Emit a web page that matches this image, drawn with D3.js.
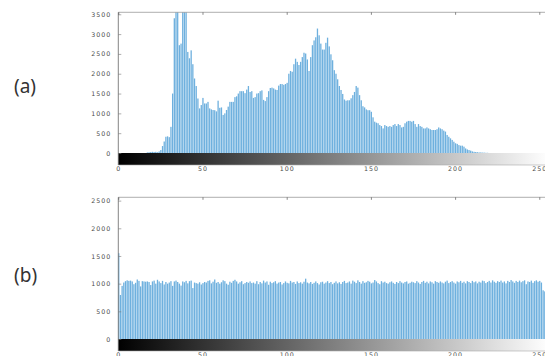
<!DOCTYPE html>
<html>
<head>
<meta charset="utf-8">
<script src="https://cdn.jsdelivr.net/npm/d3@7"></script>
<style>
  body { margin: 0; background: #fff; }
  svg { display: block; }
  .tick-label { font-family: "DejaVu Sans", sans-serif; font-size: 6.3px; letter-spacing: 1px; fill: #4a4a4a; }
  .panel-label { font-family: "Noto Sans", sans-serif; font-size: 19px; fill: #333; }
</style>
</head>
<body>
<script>
// bin positions 0..255
var bins = d3.range(256);

// (a) original image histogram (counts per grey level)
var countsA = [
  0, 0, 0, 0, 0, 0, 0, 0, 0, 0, 0, 0, 0, 0, 0, 0,
  0, 15, 20, 25, 30, 25, 30, 20, 40, 75, 175, 290, 410, 420, 400, 660,
  1500, 3400, 4200, 3900, 2720, 2760, 4600, 5000, 4100, 2550, 2390, 2590, 2240, 1880, 1690, 1375,
  1125, 1210, 1390, 1250, 1250, 1290, 1125, 1100, 1085, 1080, 1050, 1320, 1140, 1150, 960, 1000,
  1085, 1170, 1290, 1290, 1290, 1410, 1430, 1500, 1560, 1560, 1560, 1510, 1600, 1690, 1540, 1560,
  1390, 1410, 1500, 1510, 1560, 1580, 1340, 1310, 1410, 1560, 1640, 1650, 1630, 1600, 1590, 1700,
  1740, 1740, 1720, 1740, 1770, 2000, 2070, 2050, 2240, 2380, 2300, 2220, 2300, 2420, 2530, 2510,
  2360, 2070, 2420, 2720, 2840, 2920, 3140, 2970, 2760, 2610, 2610, 2780, 2910, 2690, 2490, 2340,
  2090, 2000, 1860, 1690, 1590, 1490, 1350, 1320, 1330, 1330, 1380, 1460, 1540, 1690, 1650, 1460,
  1330, 1180, 1150, 1100, 1080, 1080, 1040, 900, 790, 765, 750, 705, 680, 620, 705, 680,
  660, 680, 660, 705, 730, 680, 730, 705, 645, 660, 750, 790, 810, 810, 790, 810,
  730, 660, 730, 680, 660, 620, 620, 645, 620, 600, 580, 580, 580, 600, 645, 620,
  600, 565, 540, 455, 410, 370, 330, 285, 245, 230, 200, 185, 185, 160, 115, 90,
  75, 60, 40, 30, 25, 20, 15, 15, 10, 10, 5, 5, 0, 0, 0, 0,
  0, 0, 0, 0, 0, 0, 0, 0, 0, 0, 0, 0, 0, 0, 0, 0,
  0, 0, 0, 0, 0, 0, 0, 0, 0, 0, 0, 0, 0, 0, 0, 0
];

// (b) equalized histogram
var countsB = [
  1550, 795, 960, 1020, 1045, 1060, 1050, 1055, 1040, 990, 1015, 1075, 1050, 950, 1045, 1040,
  1035, 1040, 1030, 975, 1040, 1055, 1000, 1070, 1040, 1010, 1050, 985, 1030, 1000, 1020, 1045,
  960, 1040, 1055, 1030, 1000, 965, 1040, 1025, 1050, 1005, 1045, 1055, 920, 1020, 1010, 1000,
  1025, 985, 1010, 1030, 1020, 1050, 1060, 1005, 1035, 1075, 1015, 1030, 1000, 1025, 1060, 1045,
  1000, 980, 1035, 1015, 1050, 1070, 1040, 1000, 1025, 1045, 990, 1010, 1030, 1015, 1040, 1010,
  1020, 1000, 1045, 990, 1030, 1005, 1055, 1020, 1040, 980, 1035, 1010, 1025, 1045, 1000, 1020,
  1030, 985, 1010, 1040, 1015, 1005, 1050, 1020, 1030, 995, 1040, 1010, 1025, 1000, 1035, 1090,
  1020, 1005, 1030, 995, 1015, 1040, 1010, 985, 1025, 1035, 1000, 1020, 1045, 1010, 1030, 990,
  1015, 1040, 1005, 1025, 995, 1030, 1050, 1010, 1020, 1040, 1000, 1055, 1035, 1010, 1060, 1030,
  1000, 1045, 1015, 1025, 1050, 1035, 1005, 1020, 1065, 1040, 1010, 990, 1045, 1020, 1035, 1010,
  1000, 1025, 1040, 1015, 995, 1030, 1010, 1045, 1020, 1005, 1030, 1040, 1000, 1015, 1035, 1025,
  1010, 1045, 1020, 995, 1030, 1050, 1015, 1035, 1005, 1040, 1025, 1000, 1045, 1030, 1015, 1040,
  1020, 1005, 1035, 1055, 1010, 1030, 1045, 1020, 1000, 1040, 1025, 1050, 1015, 1035, 1005, 1045,
  1030, 1010, 1050, 1025, 1040, 1005, 1035, 1020, 1055, 1045, 1010, 1030, 1050, 1020, 1060, 1035,
  1015, 1045, 1030, 1055, 1020, 1040, 1005, 1050, 1030, 1065, 1040, 1015, 1050, 1030, 1055, 1025,
  1045, 1060, 990, 1040, 1030, 1055, 1015, 1045, 1060, 1035, 1050, 1020, 880, 860, 870, 850
];

var xTicks = [0, 50, 100, 150, 200, 250];
var yTicksA = [0, 500, 1000, 1500, 2000, 2500, 3000, 3500];
var yTicksB = [0, 500, 1000, 1500, 2000, 2500];

var W = 545, H = 356;
var left = 118.3, right = 549.4;

var svg = d3.select('body').
append('svg').
attr('width', W).
attr('height', H);

// grey ramp under each histogram
var grad = svg.append('defs').
append('linearGradient').
attr('id', 'ramp').
attr('x1', '0%').attr('x2', '100%').attr('y1', '0%').attr('y2', '0%');
grad.append('stop').attr('offset', '0%').attr('stop-color', '#000');
grad.append('stop').attr('offset', '100%').attr('stop-color', '#fff');

var x = d3.scaleLinear().domain([0, 256]).range([left, right]);

function drawPanel(id, counts, yMax, yTicks, top, zero, rampH, label, labelY) {
  var y = d3.scaleLinear().domain([0, yMax]).range([zero, top]);
  var g = svg.append('g').attr('id', id);

  g.append('clipPath').
  attr('id', id + '-clip').
  append('rect').
  attr('x', left).
  attr('y', top).
  attr('width', right - left).
  attr('height', zero - top);

  // bars
  g.append('g').
  attr('clip-path', 'url(#' + id + '-clip)').
  selectAll('rect').
  data(bins).
  enter().
  append('rect').
  attr('x', function (d) {return x(d) - 0.2;}).
  attr('width', 1.3).
  attr('y', function (d) {return y(counts[d]);}).
  attr('height', function (d) {return zero - y(counts[d]);}).
  attr('fill', '#6eb0de');

  // ramp bar
  g.append('rect').
  attr('x', left).
  attr('y', zero).
  attr('width', right - left).
  attr('height', rampH).
  attr('fill', 'url(#ramp)');

  // frame
  g.append('line').
  attr('x1', left).attr('x2', right).attr('y1', top).attr('y2', top).
  attr('stroke', '#9a9a9a').attr('stroke-width', 0.8);
  g.append('line').
  attr('x1', left).attr('x2', left).attr('y1', top).attr('y2', zero + rampH).
  attr('stroke', '#666').attr('stroke-width', 0.8);
  g.append('line').
  attr('x1', left).attr('x2', right).attr('y1', zero + rampH).attr('y2', zero + rampH).
  attr('stroke', '#aaa').attr('stroke-width', 0.6);

  // y axis (labels left, inward ticks)
  var yAxis = d3.axisLeft(y).tickValues(yTicks).tickSize(-3).tickPadding(7).tickFormat(d3.format('d'));
  var ya = g.append('g').
  attr('transform', 'translate(' + left + ',0)').
  call(yAxis);
  ya.select('.domain').remove();
  ya.selectAll('line').attr('stroke', '#777').attr('stroke-width', 0.6);
  ya.selectAll('text').attr('class', 'tick-label').attr('font-size', null).attr('font-family', null);

  // right side inward ticks
  var yr = g.append('g').
  attr('transform', 'translate(' + (right - 4) + ',0)').
  call(d3.axisRight(y).tickValues(yTicks).tickSize(6).tickFormat(''));
  yr.select('.domain').remove();
  yr.selectAll('line').attr('stroke', '#777').attr('stroke-width', 0.6);

  // top inward ticks
  var xt = g.append('g').
  attr('transform', 'translate(0,' + top + ')').
  call(d3.axisBottom(x).tickValues(xTicks).tickSize(2.5).tickFormat(''));
  xt.select('.domain').remove();
  xt.selectAll('line').attr('stroke', '#555').attr('stroke-width', 0.7);

  // x axis labels under the ramp
  var xb = g.append('g').
  attr('transform', 'translate(0,' + (zero + rampH) + ')').
  call(d3.axisBottom(x).tickValues(xTicks).tickSize(0).tickPadding(2).tickFormat(d3.format('d')));
  xb.select('.domain').remove();
  xb.selectAll('text').attr('class', 'tick-label').attr('font-size', null).attr('font-family', null);

  svg.append('text').
  attr('class', 'panel-label').
  attr('x', 14).
  attr('y', labelY).
  text(label);
}

drawPanel('pa', countsA, 3550, yTicksA, 12.3, 153, 12, '(a)', 92.5);
drawPanel('pb', countsB, 2560, yTicksB, 197.3, 339, 12, '(b)', 281.5);
</script>
</body>
</html>
